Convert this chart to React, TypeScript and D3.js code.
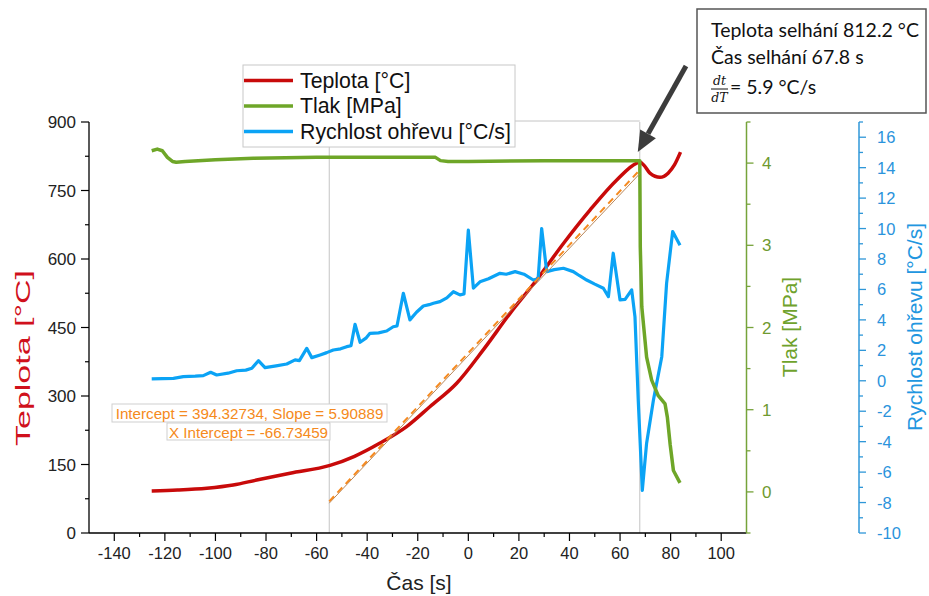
import React from "react";
import * as d3 from "d3";

// ---- data ----
const tempTime = [-125.2, -115, -103.4, -93, -83.7, -70.5, -54.7, -45, -34.9, -24.4, -15.1, -4.6, 5.9, 16.5, 27.0, 37.6, 48.1, 58.7, 66.6, 67.8, 69.5, 71.8, 75.8, 79, 81.5, 83.9];
const tempValues = [92, 94, 98, 105, 116, 131, 148, 168, 197, 233, 277, 328, 401, 481, 554, 634, 707, 773, 810, 812.2, 805, 788, 779, 788, 806, 834];

const pressureTime = [-125.2, -123, -121, -119, -117, -115.5, -112, -100, -85, -60, -30, -13, -11, -8, 0, 30, 60, 67.8, 68.0, 68.6, 70.5, 72.5, 75.1, 77.8, 78.7, 79.8, 81.1, 83.7];
const pressureValues = [4.15, 4.17, 4.15, 4.07, 4.02, 4.01, 4.02, 4.04, 4.06, 4.07, 4.07, 4.07, 4.03, 4.02, 4.02, 4.03, 4.03, 4.03, 2.98, 2.25, 1.64, 1.36, 1.17, 1.07, 0.91, 0.58, 0.26, 0.11];

const rateTime = [-125.2, -121, -116.6, -112.7, -108, -104.8, -101.9, -99.5, -95, -91.6, -88, -85.6, -83.0, -80.4, -76, -71.8, -68.5, -66.8, -63.9, -61.9, -58.6, -56, -53.4, -50.5, -48.1, -46.4, -44.8, -42.8, -40.5, -38.9, -35.5, -32.3, -29.7, -28.2, -25.7, -23.1, -20.5, -17.8, -15.5, -13.8, -11.2, -8.5, -5.9, -3.3, -1.7, 0, 2.0, 4.6, 8, 12.5, 15, 18.5, 22, 25.7, 27.6, 29.0, 31.0, 34, 37.6, 41.5, 44, 46.8, 50, 53.4, 55.4, 57.3, 60.0, 62.0, 64.6, 65.9, 67.2, 68.8, 70.5, 73.2, 76.5, 78.4, 80.8, 83.7];
const rateValues = [0.12, 0.14, 0.16, 0.27, 0.3, 0.34, 0.56, 0.38, 0.5, 0.66, 0.7, 0.82, 1.32, 0.86, 0.98, 1.1, 1.37, 1.32, 2.13, 1.52, 1.7, 1.85, 2.02, 2.1, 2.24, 2.3, 3.71, 2.53, 2.8, 3.12, 3.15, 3.27, 3.55, 3.6, 5.75, 4.0, 4.5, 4.91, 5.0, 5.09, 5.2, 5.45, 5.85, 5.64, 5.7, 9.9, 6.08, 6.5, 6.7, 7.06, 7.0, 7.17, 7.0, 6.62, 6.7, 10.0, 7.17, 7.3, 7.39, 7.17, 6.9, 6.62, 6.35, 6.08, 5.53, 8.38, 5.31, 5.35, 5.97, 4.2, -1.3, -7.2, -4.1, -1.26, 1.58, 6.4, 9.8, 8.9];

const xTickValues = [-140, -120, -100, -80, -60, -40, -20, 0, 20, 40, 60, 80, 100];
const tempTickValues = [0, 150, 300, 450, 600, 750, 900];
const pressureTickValues = [0, 1, 2, 3, 4];
const rateTickValues = [-10, -8, -6, -4, -2, 0, 2, 4, 6, 8, 10, 12, 14, 16];

const fitIntercept = 394.32734;
const fitSlope = 5.90889;
const fitXIntercept = -66.73459;
const fitStart = -55;
const fitEnd = 67.8;

const failureTemp = 812.2;
const failureTime = 67.8;
const heatRate = 5.9;

const legendLabels = ["Teplota [°C]", "Tlak [MPa]", "Rychlost ohřevu [°C/s]"];

const RED = "#c80a0a";
const GREEN = "#6ea628";
const BLUE = "#0ba3f5";
const ORANGE = "#f58a20";
const ARIAL = "'Liberation Sans', Arial, sans-serif";

export default function App() {
  const W = 929, H = 596;
  const top = 122, bottom = 533, left = 89, right = 746.5;
  const x = d3.scaleLinear().domain([-150, 110]).range([left, right]);
  const yT = d3.scaleLinear().domain([0, 900]).range([bottom, top]);
  const yP = d3.scaleLinear().domain([-0.5, 4.5]).range([bottom, top]);
  const yR = d3.scaleLinear().domain([-10, 17]).range([bottom, top]);
  const blueAxisX = 859;

  const tempLine = d3.line<number>().x((d, i) => x(tempTime[i])).y((d) => yT(d)).curve(d3.curveMonotoneX);
  const pressLine = d3.line<number>().x((d, i) => x(pressureTime[i])).y((d) => yP(d));
  const rateLine = d3.line<number>().x((d, i) => x(rateTime[i])).y((d) => yR(d));

  const fitY = (t: number) => fitIntercept + fitSlope * t;

  const xMinor = d3.range(-130, 100, 20);
  const tMinor = d3.range(75, 900, 150);
  const pMinor = d3.range(-0.5, 4.6, 1);
  const rMinor = d3.range(-9, 18, 2);

  // arrow toward failure point
  const tipX = x(failureTime) - 2;
  const tipY = yT(failureTemp) - 10;
  const startX = 686, startY = 66;
  const dx = tipX - startX, dy = tipY - startY;
  const len = Math.hypot(dx, dy);
  const ux = dx / len, uy = dy / len;
  const headL = 21, headW = 9;
  const bx = tipX - ux * headL, by = tipY - uy * headL;
  const px = -uy, py = ux;

  return (
    <svg width={W} height={H} style={{ position: "absolute", left: 0, top: 0, background: "#fff" }} fontFamily={ARIAL}>
      <rect x={0} y={0} width={W} height={H} fill="#fff" />

      {/* fit region frame */}
      <g stroke="#c4c4c4" strokeWidth={1} fill="none">
        <line x1={x(fitStart)} x2={x(fitStart)} y1={top} y2={bottom} />
        <line x1={x(fitEnd)} x2={x(fitEnd)} y1={top} y2={bottom} />
        <line x1={x(fitStart)} x2={x(fitEnd)} y1={top - 1} y2={top - 1} />
      </g>

      {/* data lines */}
      <path d={tempLine(tempValues) || ""} fill="none" stroke={RED} strokeWidth={3.5} strokeLinejoin="round" />
      <path d={rateLine(rateValues) || ""} fill="none" stroke={BLUE} strokeWidth={3.2} strokeLinejoin="round" />
      <path d={pressLine(pressureValues) || ""} fill="none" stroke={GREEN} strokeWidth={3.5} strokeLinejoin="round" />

      {/* fit lines */}
      <line x1={x(fitStart)} y1={yT(fitY(fitStart) - 4)} x2={x(fitEnd)} y2={yT(fitY(fitEnd) - 8)} stroke="#b9875a" strokeWidth={1} />
      <line x1={x(fitStart)} y1={yT(fitY(fitStart))} x2={x(fitEnd)} y2={yT(fitY(fitEnd))} stroke={ORANGE} strokeWidth={2} strokeDasharray="7,5" />

      {/* fit labels */}
      <g fontSize={15.2} fill={ORANGE}>
        <rect x={112} y={404} width={275} height={18} fill="#fff" stroke="#cfcfcf" />
        <text x={249.5} y={418.5} textAnchor="middle">{`Intercept = ${fitIntercept.toFixed(5)}, Slope = ${fitSlope.toFixed(5)}`}</text>
        <rect x={167} y={423} width={163} height={17} fill="#fff" stroke="#cfcfcf" />
        <text x={248.5} y={437.5} textAnchor="middle">{`X Intercept = ${fitXIntercept.toFixed(5)}`}</text>
      </g>

      {/* bottom axis */}
      <line x1={left} x2={right} y1={bottom} y2={bottom} stroke="#000" strokeWidth={1.3} />
      {xTickValues.map((t) => (
        <g key={"xt" + t}>
          <line x1={x(t)} x2={x(t)} y1={bottom} y2={bottom + 8} stroke="#000" strokeWidth={1.2} />
          <text x={x(t)} y={559} fontSize={16.5} textAnchor="middle" fill="#222">{t}</text>
        </g>
      ))}
      {xMinor.map((t) => (
        <line key={"xm" + t} x1={x(t)} x2={x(t)} y1={bottom} y2={bottom + 4} stroke="#000" strokeWidth={1.2} />
      ))}
      <text x={419} y={590} fontSize={21} textAnchor="middle" fill="#222">Čas [s]</text>

      {/* left axis */}
      <line x1={left} x2={left} y1={top} y2={bottom} stroke="#000" strokeWidth={1.3} />
      {tempTickValues.map((v) => (
        <g key={"lt" + v}>
          <line x1={left - 8} x2={left} y1={yT(v)} y2={yT(v)} stroke="#000" strokeWidth={1.2} />
          <text x={76} y={yT(v) + 6} fontSize={17} textAnchor="end" fill="#222">{v}</text>
        </g>
      ))}
      {tMinor.map((v) => (
        <line key={"lm" + v} x1={left - 4} x2={left} y1={yT(v)} y2={yT(v)} stroke="#000" strokeWidth={1.2} />
      ))}
      <text transform="translate(30,358) rotate(-90)" fontSize={21} textAnchor="middle" fill="#d0101c" textLength={176} lengthAdjust="spacingAndGlyphs">Teplota [°C]</text>

      {/* green axis */}
      <line x1={right} x2={right} y1={top} y2={bottom} stroke="#76a33a" strokeWidth={1.5} />
      {pressureTickValues.map((v) => (
        <g key={"pt" + v}>
          <line x1={right} x2={right + 7} y1={yP(v)} y2={yP(v)} stroke="#76a33a" strokeWidth={1.3} />
          <text x={762} y={yP(v) + 6} fontSize={17} fill="#6f9a30">{v}</text>
        </g>
      ))}
      {pMinor.map((v) => (
        <line key={"pm" + v} x1={right} x2={right + 4} y1={yP(v)} y2={yP(v)} stroke="#76a33a" strokeWidth={1.3} />
      ))}
      <text transform="translate(797,327) rotate(-90)" fontSize={21} textAnchor="middle" fill="#6fa22c">Tlak [MPa]</text>

      {/* blue axis */}
      <line x1={blueAxisX} x2={blueAxisX} y1={top} y2={bottom} stroke="#2f97d8" strokeWidth={1.5} />
      {rateTickValues.map((v) => (
        <g key={"rt" + v}>
          <line x1={blueAxisX} x2={blueAxisX + 7} y1={yR(v)} y2={yR(v)} stroke="#2f97d8" strokeWidth={1.3} />
          <text x={877} y={yR(v) + 6} fontSize={16.5} fill="#2a93dc">{v}</text>
        </g>
      ))}
      {rMinor.map((v) => (
        <line key={"rm" + v} x1={blueAxisX} x2={blueAxisX + 4} y1={yR(v)} y2={yR(v)} stroke="#2f97d8" strokeWidth={1.3} />
      ))}
      <text transform="translate(922,327) rotate(-90)" fontSize={21} textAnchor="middle" fill="#2196e0">Rychlost ohřevu [°C/s]</text>

      {/* legend */}
      <rect x={243} y={65} width={272} height={82} fill="#fff" stroke="#c8c8c8" />
      {legendLabels.map((lab, i) => {
        const yy = [80.5, 106, 131.5][i];
        const col = [RED, GREEN, BLUE][i];
        return (
          <g key={lab}>
            <line x1={244} x2={293} y1={yy} y2={yy} stroke={col} strokeWidth={3.5} />
            <text x={300} y={yy + 7} fontSize={21.3} fill="#111">{lab}</text>
          </g>
        );
      })}

      {/* annotation */}
      <rect x={697} y={9} width={229} height={104} fill="#fff" stroke="#555" strokeWidth={1.5} />
      <g fontFamily="Lato, 'Open Sans', sans-serif" fontSize={19.5} fill="#111">
        <text x={711} y={37}>{`Teplota selhání ${failureTemp} °C`}</text>
        <text x={711} y={64}>{`Čas selhání ${failureTime} s`}</text>
        <text x={730} y={94}>{`= ${heatRate} °C/s`}</text>
      </g>
      <g fontFamily="'DejaVu Serif', 'Liberation Serif', serif" fontStyle="italic" fontSize={12.5} fill="#111">
        <text x={719.5} y={85} textAnchor="middle">dt</text>
        <line x1={711} x2={728} y1={89} y2={89} stroke="#111" strokeWidth={1} />
        <text x={719.5} y={102} textAnchor="middle">dT</text>
      </g>

      {/* arrow */}
      <line x1={startX} y1={startY} x2={bx} y2={by} stroke="#3c3c3c" strokeWidth={5} />
      <path d={`M${tipX},${tipY} L${bx + px * headW},${by + py * headW} L${bx - px * headW},${by - py * headW} Z`} fill="#3c3c3c" />
    </svg>
  );
}
